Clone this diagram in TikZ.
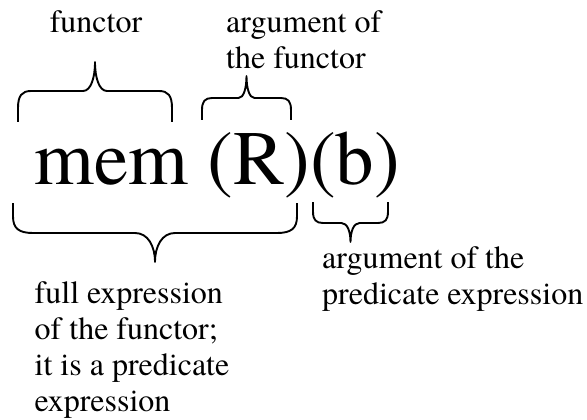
\documentclass[tikz,border=0pt]{standalone}
\usepackage{fontspec}
\setmainfont{texgyretermes}[Extension=.otf, UprightFont=*-regular, BoldFont=*-bold, ItalicFont=*-italic, BoldItalicFont=*-bolditalic]
\tikzset{
  lbl/.style={inner sep=0pt, font=\fontsize{32}{36}\selectfont, align=left},
  bigtext/.style={inner sep=0pt, font=\fontsize{77}{80}\selectfont},
  bracestyle/.style={line width=1.9pt, line join=round},
}
% #1 left x, #2 right x, #3 end y, #4 horizontal y, #5 tip y, #6 corner width, #7 tip half-width
\newcommand{\drawbrace}[7]{%
  \draw[bracestyle]
    (#1,#3) -- ({#1},{#4+0.55*(#3-#4)})
    .. controls ({#1},{#4+0.15*(#3-#4)}) and ({#1+0.3*#6},{#4}) .. ({#1+#6},{#4})
    -- ({(#1+#2)/2-#7},{#4})
    .. controls ({(#1+#2)/2-0.35*#7},{#4}) and ({(#1+#2)/2},{#4+0.45*(#5-#4)}) .. ({(#1+#2)/2},{#5})
    .. controls ({(#1+#2)/2},{#4+0.45*(#5-#4)}) and ({(#1+#2)/2+0.35*#7},{#4}) .. ({(#1+#2)/2+#7},{#4})
    -- ({#2-#6},{#4})
    .. controls ({#2-0.3*#6},{#4}) and ({#2},{#4+0.15*(#3-#4)}) .. ({#2},{#4+0.55*(#3-#4)})
    -- (#2,#3);}
\begin{document}
\begin{tikzpicture}[x=1pt, y=-1pt]
\useasboundingbox (0,0) rectangle (587,420);
% labels (base anchor of a multi-line node = baseline of its last line)
\node[lbl, anchor=base] (functor) at (96,33) {functor};
\node[lbl, anchor=base west] (argf) at (226,69) {argument of\\the functor};
\node[bigtext, anchor=base west] (expr) at (34,184) {mem (R)(b)};
\node[lbl, anchor=base west] (full) at (34.5,411) {full expression\\of the functor;\\it is a predicate\\expression};
\node[lbl, anchor=base west] (argp) at (322,304) {argument of the\\predicate expression};
% braces
\drawbrace{18}{172}{122}{91}{62}{13}{12}
\drawbrace{202}{291}{120}{98}{76}{10}{8}
\drawbrace{13}{297}{203}{233}{262}{20}{20}
\drawbrace{313}{388}{202}{223}{242}{10}{9}
\end{tikzpicture}
\end{document}
